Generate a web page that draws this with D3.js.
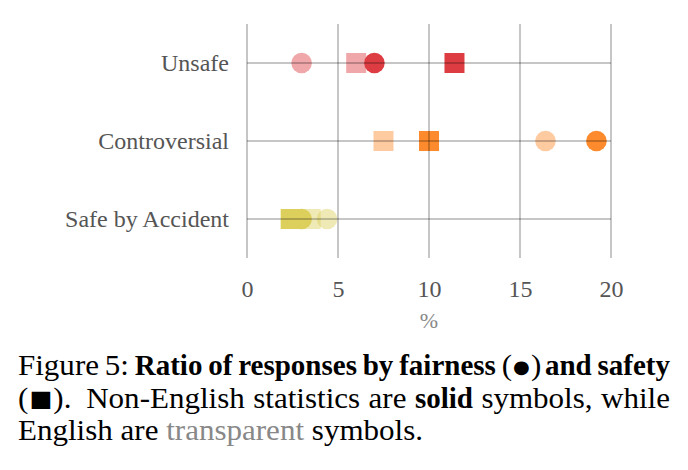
<!DOCTYPE html>
<html>
<head>
<meta charset="utf-8">
<script src="https://cdn.jsdelivr.net/npm/d3@7"></script>
<style>
  body { margin: 0; background: #fff; }
  svg { display: block; }
</style>
</head>
<body>
<div id="chart"></div>
<script>
// categories on the y axis (top to bottom)
const categories = ["Unsafe", "Controversial", "Safe by Accident"];
// % of responses, English = transparent, non-English = solid
const fairnessEnglish = [3.0, 16.4, 4.4];
const fairnessNonEnglish = [7.0, 19.2, 3.0];
const safetyEnglish = [6.0, 7.5, 3.5];
const safetyNonEnglish = [11.4, 10.0, 2.4];
const xTicks = [0, 5, 10, 15, 20];
const categoryColors = ["#dc3c42", "#fd8a2c", "#dccf5c"];

const width = 688, height = 470;
const margin = { top: 24, left: 247, right: 77, bottom: 212 };
const chartFont = "Liberation Serif";

const svg = d3.select("#chart").append("svg")
  .attr("width", width)
  .attr("height", height);

const x = d3.scaleLinear()
  .domain([0, 20])
  .range([margin.left, width - margin.right]);

const y = d3.scalePoint()
  .domain(categories)
  .range([margin.top, height - margin.bottom])
  .padding(0.5);

// build the mark list: transparent (English) first, then solid
const marks = [];
categories.forEach((c, i) => {
  marks.push({ cat: c, i, v: fairnessEnglish[i], shape: "circle", solid: false });
  marks.push({ cat: c, i, v: safetyEnglish[i], shape: "square", solid: false });
});
categories.forEach((c, i) => {
  marks.push({ cat: c, i, v: safetyNonEnglish[i], shape: "square", solid: true });
  marks.push({ cat: c, i, v: fairnessNonEnglish[i], shape: "circle", solid: true });
});

const markG = svg.append("g");
const r = 10.3, side = 20;

markG.selectAll("circle")
  .data(marks.filter(d => d.shape === "circle"))
  .join("circle")
  .attr("cx", d => x(d.v))
  .attr("cy", d => y(d.cat))
  .attr("r", r)
  .attr("fill", d => categoryColors[d.i])
  .attr("fill-opacity", d => d.solid ? 1 : 0.45);

markG.selectAll("rect")
  .data(marks.filter(d => d.shape === "square"))
  .join("rect")
  .attr("x", d => x(d.v) - side / 2)
  .attr("y", d => y(d.cat) - side / 2)
  .attr("width", side)
  .attr("height", side)
  .attr("fill", d => categoryColors[d.i])
  .attr("fill-opacity", d => d.solid ? 1 : 0.45);

// re-order so solid marks are painted after transparent ones
markG.selectAll("circle, rect").sort((a, b) => (a.solid - b.solid));

// grid lines drawn on top of marks, semi transparent
const gridG = svg.append("g").attr("stroke", "#000").attr("stroke-opacity", 0.45).attr("stroke-width", 1);

gridG.selectAll(".vgrid")
  .data(xTicks)
  .join("line")
  .attr("class", "vgrid")
  .attr("x1", d => x(d)).attr("x2", d => x(d))
  .attr("y1", margin.top).attr("y2", height - margin.bottom);

gridG.selectAll(".hgrid")
  .data(categories)
  .join("line")
  .attr("class", "hgrid")
  .attr("x1", x(0)).attr("x2", x(20))
  .attr("y1", d => y(d)).attr("y2", d => y(d));

// axes (text only)
const xAxis = d3.axisBottom(x).tickValues(xTicks).tickSize(0).tickPadding(0);
const xAxisG = svg.append("g")
  .attr("transform", `translate(0,${height - margin.bottom + 27})`)
  .call(xAxis);
xAxisG.select(".domain").remove();
xAxisG.selectAll("text")
  .attr("font-family", chartFont)
  .attr("font-size", 24)
  .attr("fill", "#555")
  .attr("dy", "0.5em");

const yAxis = d3.axisLeft(y).tickSize(0).tickPadding(18);
const yAxisG = svg.append("g")
  .attr("transform", `translate(${margin.left},0)`)
  .call(yAxis);
yAxisG.select(".domain").remove();
yAxisG.selectAll("text")
  .attr("font-family", chartFont)
  .attr("font-size", 24)
  .attr("fill", "#555");

svg.append("text")
  .attr("x", x(10))
  .attr("y", 328)
  .attr("text-anchor", "middle")
  .attr("font-family", chartFont)
  .attr("font-size", 22)
  .attr("fill", "#888")
  .text("%");

// caption, justified lines (regular text is a bit wide in the original)
const capFont = "Liberation Serif";
const capSize = 29;
const regStretch = 1.07;
const capLeft = 18, capRight = 670;
const captionLines = [
  { y: 375, justify: true, words: [
    { t: "Figure" }, { t: "5:" }, { t: "Ratio", b: true }, { t: "of", b: true },
    { t: "responses", b: true }, { t: "by", b: true }, { t: "fairness", b: true },
    { parts: ["(", "\u25CF", ")"], sym: 0.62 }, { t: "and", b: true }, { t: "safety", b: true }] },
  { y: 408, justify: true, words: [
    { parts: ["(", "\u25A0", ")."], sym: 0.78, gapAfter: 2 }, { t: "Non-English" }, { t: "statistics" }, { t: "are" },
    { t: "solid", b: true }, { t: "symbols," }, { t: "while" }] },
  { y: 440, justify: false, words: [
    { t: "English" }, { t: "are" }, { t: "transparent", gray: true }, { t: "symbols." }] }
];

const capG = svg.append("g");
captionLines.forEach(line => {
  const texts = line.words.map(w => {
    const t = capG.append("text")
      .attr("font-family", capFont)
      .attr("font-size", capSize)
      .attr("font-weight", w.b ? "bold" : "normal")
      .attr("fill", w.gray ? "#888" : "#000");
    if (w.parts) {
      // bracketed symbol drawn with a font that has the glyph
      w.parts.forEach((p, k) => t.append("tspan")
        .attr("font-size", k === 1 ? capSize * w.sym : capSize)
        .attr("font-family", k === 1 ? "DejaVu Sans" : capFont)
        .attr("dy", k === 1 ? -2 : (k === 2 ? 2 : 0))
        .attr("dx", k === 1 ? 1 : (k === 2 ? 1 : 0))
        .text(p));
    } else {
      t.text(w.t);
    }
    return t;
  });
  const stretches = line.words.map(w => w.b ? 1 : regStretch);
  const widths = texts.map((t, k) => t.node().getComputedTextLength() * stretches[k]);
  const total = d3.sum(widths);
  const gapWeights = line.words.slice(0, -1).map(w => w.gapAfter || 1);
  const unit = line.justify
    ? (capRight - capLeft - total) / d3.sum(gapWeights)
    : capSize * 0.25 * regStretch;
  let cx = capLeft;
  texts.forEach((t, k) => {
    t.attr("transform", `translate(${cx},${line.y}) scale(${stretches[k]},1)`);
    cx += widths[k] + unit * (gapWeights[k] || 0);
  });
});
</script>
</body>
</html>
